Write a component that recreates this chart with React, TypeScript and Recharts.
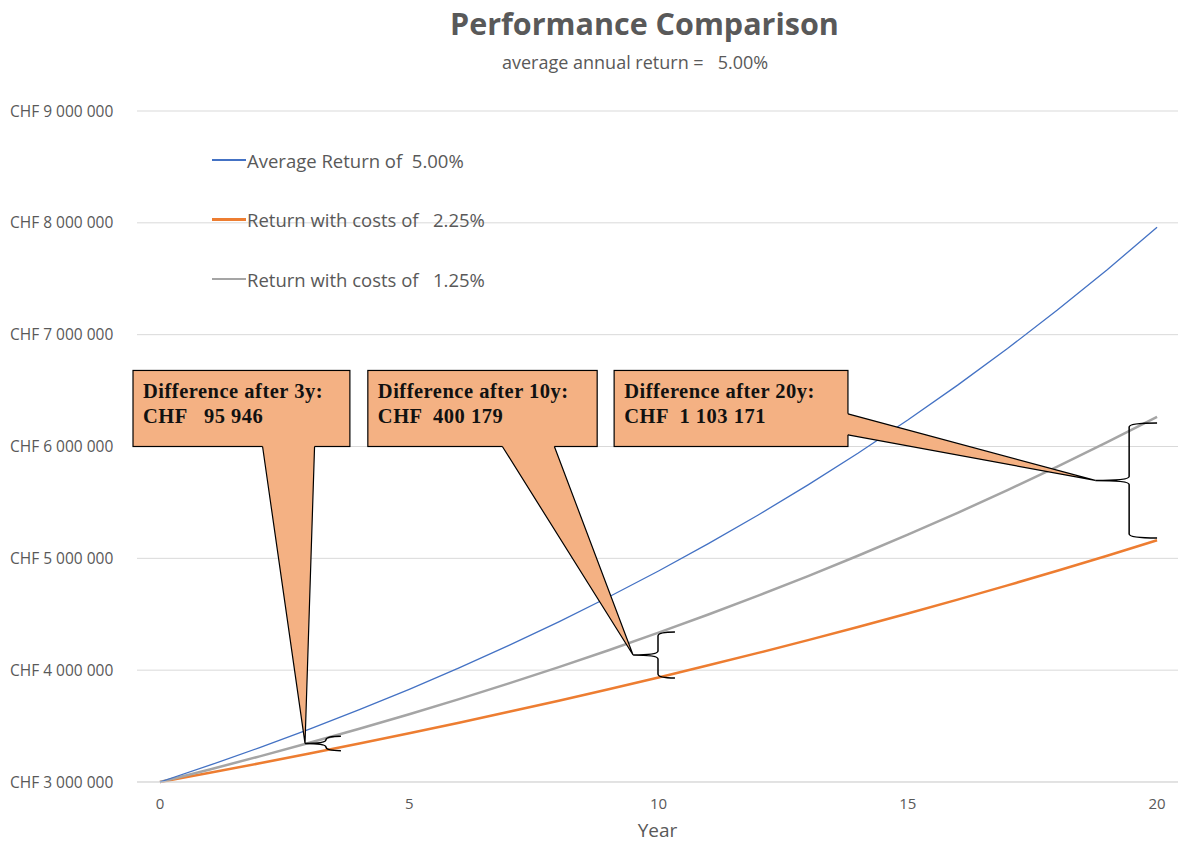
import React from 'react';
import { LineChart, Line, XAxis, YAxis, CartesianGrid, ReferenceArea, ReferenceLine, Label } from 'recharts';

const YEARS = [0, 1, 2, 3, 4, 5, 6, 7, 8, 9, 10, 11, 12, 13, 14, 15, 16, 17, 18, 19, 20];

const AVERAGE_RETURN = [
  3000000, 3150000, 3307500, 3472875, 3646519, 3828845, 4020287, 4221301, 4432366, 4653985, 4886684,
  5131018, 5387569, 5656947, 5939795, 6236785, 6548624, 6876055, 7219858, 7580851, 7959893,
];
const COSTS_225 = [
  3000000, 3082500, 3167269, 3254369, 3343864, 3435820, 3530305, 3627388, 3727142, 3829638, 3934953,
  4043164, 4154350, 4268594, 4385981, 4506597, 4630528, 4757868, 4888709, 5023149, 5161285,
];
const COSTS_125 = [
  3000000, 3112500, 3229219, 3350314, 3475951, 3606299, 3741536, 3881843, 4027412, 4178440, 4335132,
  4497699, 4666363, 4841352, 5022902, 5211261, 5406683, 5609434, 5819788, 6038030, 6264456,
];

const SERIES_NAMES = ['Average Return of  5.00%', 'Return with costs of   2.25%', 'Return with costs of   1.25%'];

const Y_TICKS = [3000000, 4000000, 5000000, 6000000, 7000000, 8000000, 9000000];
const X_TICKS = [0, 5, 10, 15, 20];

// callouts: texts, box extents, pointer base, brace (tip / spine / end) and brace span
const CALLOUT_TITLES = ['Difference after 3y:', 'Difference after 10y:', 'Difference after 20y:'];
const CALLOUT_AMOUNTS = ['CHF   95 946', 'CHF  400 179', 'CHF  1 103 171'];
const CALLOUT_BOX_X = [[-0.54, 3.81], [4.17, 8.77], [9.11, 13.8]];
const CALLOUT_BOX_Y = [6000000, 6680000];
const POINTER_BASE = [[2.58, 6000000], [7.39, 6000000], [13.8, 6198000]];
const BRACE_X = [[2.91, 3.33, 3.63], [9.49, 9.99, 10.33], [18.76, 19.44, 20]];
const BRACE_Y = [[3280000, 3410000], [3930000, 4342000], [5182000, 6211000]];

const BLUE = '#4472C4';
const ORANGE = '#ED7D31';
const GRAY = '#A5A5A5';
const TEXT = '#595959';
const CALLOUT_FILL = '#F4B183';

const data = YEARS.map((year, i) => ({
  year,
  avg: AVERAGE_RETURN[i],
  c225: COSTS_225[i],
  c125: COSTS_125[i],
}));

function formatChf(v: number): string {
  return 'CHF ' + String(v).replace(/\B(?=(\d{3})+(?!\d))/g, ' ');
}

// eslint-disable-next-line @typescript-eslint/no-explicit-any
function YTick(props: any) {
  const { y, payload } = props;
  return (
    <text x={10} y={y} dy={5.5} fontSize={15.5} fill={TEXT} fontFamily="Open Sans" textAnchor="start">
      {formatChf(payload.value)}
    </text>
  );
}

function boxShape(i: number) {
  const textProps = {
    fontSize: 20.5,
    fontWeight: 'bold',
    fontFamily: 'Liberation Serif',
    fill: '#111',
    letterSpacing: 0.5,
    style: { whiteSpace: 'pre' as const },
  };
  // eslint-disable-next-line @typescript-eslint/no-explicit-any
  return (p: any) => (
    <g>
      <rect x={p.x} y={p.y} width={p.width} height={p.height} fill={CALLOUT_FILL} stroke="#000" strokeWidth={1.2} />
      <text x={p.x + 10} y={p.y + 28} {...textProps}>
        {CALLOUT_TITLES[i]}
      </text>
      <text x={p.x + 10} y={p.y + 52.5} {...textProps}>
        {CALLOUT_AMOUNTS[i]}
      </text>
    </g>
  );
}

function pointerShape(half: number, side: 'bottom' | 'right') {
  // eslint-disable-next-line @typescript-eslint/no-explicit-any
  return (p: any) => {
    const { x1, y1, x2, y2 } = p;
    let a, b, ai, bi;
    if (side === 'bottom') {
      a = [x1 - half, y1];
      b = [x1 + half, y1];
      ai = [x1 - half, y1 - 2];
      bi = [x1 + half, y1 - 2];
    } else {
      a = [x1, y1 - half];
      b = [x1, y1 + half];
      ai = [x1 - 2, y1 - half];
      bi = [x1 - 2, y1 + half];
    }
    return (
      <g>
        <path
          d={`M${ai[0]},${ai[1]} L${a[0]},${a[1]} L${x2},${y2} L${b[0]},${b[1]} L${bi[0]},${bi[1]} Z`}
          fill={CALLOUT_FILL}
          stroke="none"
        />
        <path d={`M${a[0]},${a[1]} L${x2},${y2} L${b[0]},${b[1]}`} fill="none" stroke="#000" strokeWidth={1.2} />
      </g>
    );
  };
}

function braceShape(i: number) {
  // eslint-disable-next-line @typescript-eslint/no-explicit-any
  return (p: any) => {
    const [tip, spine, end] = BRACE_X[i];
    const l = p.x;
    const e = p.x + p.width;
    const s = l + (p.width * (spine - tip)) / (end - tip);
    const t = p.y;
    const b = p.y + p.height;
    const m = (t + b) / 2;
    const r = Math.min(4, p.height / 4);
    const d = `M${e},${t} Q${s},${t} ${s},${t + r} L${s},${m - r} Q${s},${m} ${l},${m} Q${s},${m} ${s},${m + r} L${s},${b - r} Q${s},${b} ${e},${b}`;
    return <path d={d} fill="none" stroke="#000" strokeWidth={1.5} />;
  };
}

const POINTER_HALF = [26, 26, 10.5];
const POINTER_SIDE: ('bottom' | 'right')[] = ['bottom', 'bottom', 'right'];

export default function App() {
  return (
    <div style={{ position: 'absolute', left: 0, top: 0, width: 1178, height: 845, background: '#fff', fontFamily: 'Open Sans' }}>
      <div style={{ position: 'absolute', left: 450, top: 2, fontSize: 30.5, fontWeight: 'bold', color: TEXT, whiteSpace: 'pre' }}>
        Performance Comparison
      </div>
      <div style={{ position: 'absolute', left: 502, top: 50, fontSize: 18, color: TEXT, whiteSpace: 'pre' }}>
        {'average annual return =   5.00%'}
      </div>

      <LineChart width={1178} height={845} data={data} margin={{ top: 111, right: 0, left: 0, bottom: 0 }}>
        <CartesianGrid vertical={false} stroke="#D9D9D9" />
        <XAxis
          dataKey="year"
          type="number"
          domain={[-0.46, 20.42]}
          ticks={X_TICKS}
          height={63}
          axisLine={{ stroke: '#D9D9D9' }}
          tickLine={false}
          tick={{ fontSize: 15, fill: TEXT, fontFamily: 'Open Sans' }}
          tickMargin={10}
          allowDataOverflow
        >
          <Label value="Year" position="insideBottom" offset={8} fontSize={19} fill={TEXT} fontFamily="Open Sans" />
        </XAxis>
        <YAxis
          type="number"
          domain={[3000000, 9000000]}
          ticks={Y_TICKS}
          width={137}
          axisLine={false}
          tickLine={false}
          tick={<YTick />}
        />
        <Line type="linear" dataKey="c225" stroke={ORANGE} strokeWidth={2.5} dot={false} isAnimationActive={false} />
        <Line type="linear" dataKey="c125" stroke={GRAY} strokeWidth={2.5} dot={false} isAnimationActive={false} />
        <Line type="linear" dataKey="avg" stroke={BLUE} strokeWidth={1.3} dot={false} isAnimationActive={false} />

        {BRACE_X.map((bx, i) => (
          <ReferenceArea
            key={`brace-${i}`}
            x1={bx[0]}
            x2={bx[2]}
            y1={BRACE_Y[i][0]}
            y2={BRACE_Y[i][1]}
            ifOverflow="visible"
            shape={braceShape(i)}
            zIndex={1400}
          />
        ))}
        {CALLOUT_BOX_X.map((bx, i) => (
          <ReferenceArea
            key={`box-${i}`}
            x1={bx[0]}
            x2={bx[1]}
            y1={CALLOUT_BOX_Y[0]}
            y2={CALLOUT_BOX_Y[1]}
            ifOverflow="visible"
            shape={boxShape(i)}
            zIndex={1500}
          />
        ))}
        {POINTER_BASE.map((pb, i) => (
          <ReferenceLine
            key={`ptr-${i}`}
            segment={[
              { x: pb[0], y: pb[1] },
              { x: BRACE_X[i][0], y: (BRACE_Y[i][0] + BRACE_Y[i][1]) / 2 },
            ]}
            ifOverflow="visible"
            shape={pointerShape(POINTER_HALF[i], POINTER_SIDE[i])}
            zIndex={1600}
          />
        ))}
      </LineChart>

      <div style={{ position: 'absolute', left: 212, top: 145, fontSize: 18.5, color: TEXT }}>
        {SERIES_NAMES.map((name, i) => (
          <div key={name} style={{ display: 'flex', alignItems: 'center', height: 30, marginBottom: i < 2 ? 29.5 : 0 }}>
            <span
              style={{
                display: 'inline-block',
                width: 34,
                height: i === 0 ? 1.3 : 2.5,
                background: [BLUE, ORANGE, GRAY][i],
              }}
            />
            <span style={{ marginLeft: 1, whiteSpace: 'pre' }}>{name}</span>
          </div>
        ))}
      </div>
    </div>
  );
}
